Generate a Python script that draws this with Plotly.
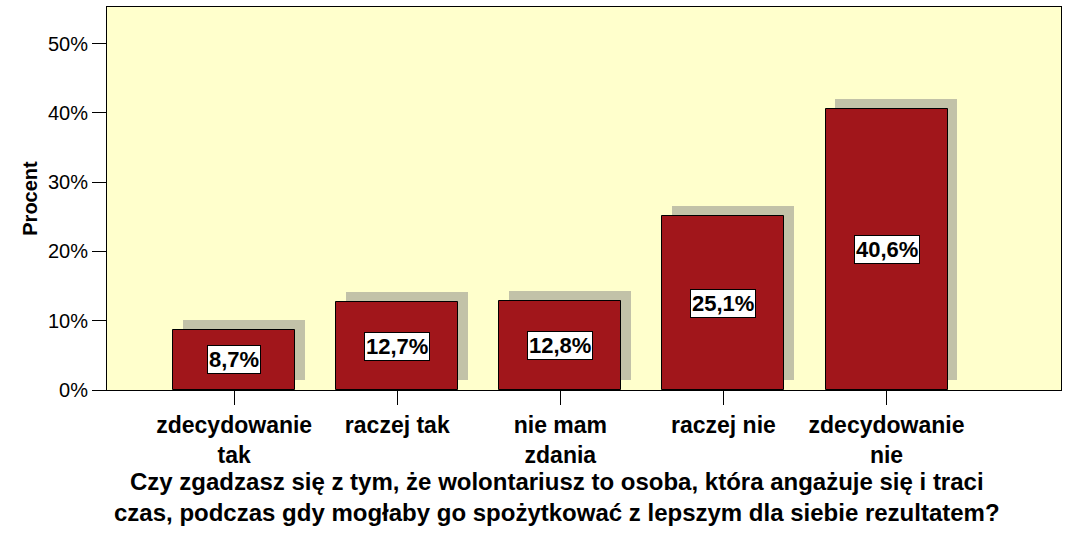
import plotly.graph_objects as go

# odpowiedzi i procenty
categories = ["zdecydowanie<br>tak", "raczej tak", "nie mam<br>zdania", "raczej nie", "zdecydowanie<br>nie"]
percent = [8.7, 12.7, 12.8, 25.1, 40.6]
y_ticks = [0, 10, 20, 30, 40, 50]
y_tick_labels = ["0%", "10%", "20%", "30%", "40%", "50%"]
x_title = ("Czy zgadzasz się z tym, że wolontariusz to osoba, która angażuje się i traci<br>"
           "czas, podczas gdy mogłaby go spożytkować z lepszym dla siebie rezultatem?")

x_pos = list(range(len(categories)))
bar_w = 0.748
shadow_dx = 0.061
shadow_dy = 1.45
font_name = "Liberation Sans"

fig = go.Figure()

# cien pod slupkami
fig.add_trace(go.Bar(
    x=[p + shadow_dx for p in x_pos], y=percent, base=shadow_dy,
    width=bar_w, marker=dict(color="#c2c2a8", line=dict(width=0)),
    hoverinfo="skip", showlegend=False))

fig.add_trace(go.Bar(
    x=x_pos, y=percent, width=bar_w,
    marker=dict(color="#a1161b", line=dict(color="black", width=1)),
    showlegend=False))

for p, v in zip(x_pos, percent):
    fig.add_annotation(
        x=p, y=v / 2, text=("%.1f%%" % v).replace(".", ","),
        showarrow=False, bgcolor="white", bordercolor="black", borderwidth=1,
        borderpad=1, font=dict(family=font_name, size=22, color="black", weight="bold"))

# tytul osi x
fig.add_annotation(
    xref="paper", yref="paper", x=0.472, y=-0.198, xanchor="center", yanchor="top",
    text=x_title, showarrow=False,
    font=dict(family=font_name, size=24, color="black", weight="bold"))

fig.update_layout(
    width=1074, height=536,
    margin=dict(l=107, r=13, t=7, b=146),
    plot_bgcolor="#ffffcc", paper_bgcolor="white",
    barmode="overlay", bargap=0,
    font=dict(family=font_name, color="black"),
)

fig.update_xaxes(
    range=[-0.78, 5.07], tickvals=x_pos, ticktext=["<b>%s</b>" % c for c in categories],
    tickfont=dict(size=23), ticks="outside", ticklen=14, tickcolor="black",
    showline=True, linecolor="black", linewidth=1, mirror=True, showgrid=False,
    zeroline=False)

fig.update_yaxes(
    range=[0, 55.3], tickvals=y_ticks, ticktext=y_tick_labels,
    tickfont=dict(size=20), ticks="outside", ticklen=14, tickcolor="black",
    showline=True, linecolor="black", linewidth=1, mirror=True, showgrid=False,
    zeroline=False,
    title=dict(text="<b>Procent</b>", font=dict(size=20), standoff=4))

fig.write_html("out.html", config={"displayModeBar": False},
               post_script="document.body.style.margin='0';")
